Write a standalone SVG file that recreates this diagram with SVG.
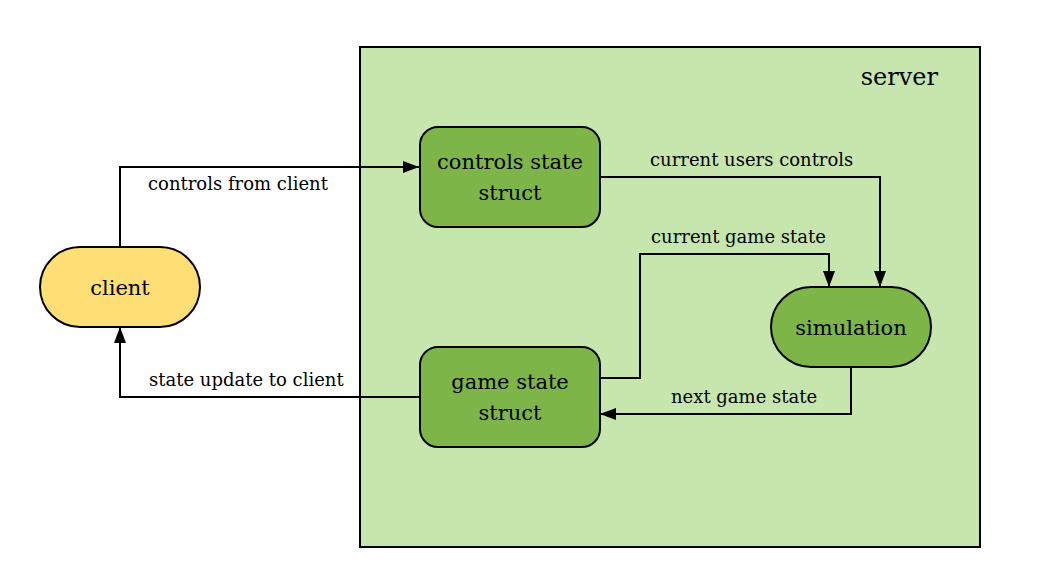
<svg xmlns="http://www.w3.org/2000/svg" width="1060" height="587" viewBox="0 0 1060 587">
<defs>
<style>
.node{stroke:#000;stroke-width:2}
.green{fill:#7db548}
.yellow{fill:#ffde75}
.lbl{font-family:"DejaVu Serif","Liberation Serif",serif;font-size:18px;fill:#000}
.ntxt{font-family:"DejaVu Serif","Liberation Serif",serif;font-size:21px;fill:#000;text-anchor:middle}
.edge{fill:none;stroke:#000;stroke-width:2}
</style>
<marker id="arrow" viewBox="0 0 16 12" refX="16" refY="6" markerWidth="16" markerHeight="12" markerUnits="userSpaceOnUse" orient="auto">
<path d="M0,0 L16,6 L0,12 z" fill="#000"/>
</marker>
</defs>
<rect width="1060" height="587" fill="#fff"/>
<g id="server">
<rect x="360" y="47" width="620" height="500" fill="#c6e6ae" stroke="#000" stroke-width="2"/>
<text x="938" y="85" class="ntxt" style="text-anchor:end;font-size:24px">server</text>
</g>
<g id="connectors">
<path class="edge" d="M120,247 V167 H419" marker-end="url(#arrow)"/>
<text class="lbl" x="148" y="190">controls from client</text>
<path class="edge" d="M600,177 H880 V287" marker-end="url(#arrow)"/>
<text class="lbl" x="650" y="166">current users controls</text>
<path class="edge" d="M600,378 H640 V254 H829 V287" marker-end="url(#arrow)"/>
<text class="lbl" x="651" y="243">current game state</text>
<path class="edge" d="M851,367 V414 H600" marker-end="url(#arrow)"/>
<text class="lbl" x="671" y="403">next game state</text>
<path class="edge" d="M419,397 H120 V327" marker-end="url(#arrow)"/>
<text class="lbl" x="149" y="386">state update to client</text>
</g>
<g id="client">
<rect class="node yellow" x="40" y="247" width="160" height="80" rx="40" ry="40"/>
<text class="ntxt" x="120" y="295">client</text>
</g>
<g id="controls-state-struct">
<rect class="node green" x="420" y="127" width="180" height="100" rx="18" ry="18"/>
<text class="ntxt" x="510" y="169">controls state</text>
<text class="ntxt" x="510" y="200">struct</text>
</g>
<g id="game-state-struct">
<rect class="node green" x="420" y="347" width="180" height="100" rx="18" ry="18"/>
<text class="ntxt" x="510" y="389">game state</text>
<text class="ntxt" x="510" y="420">struct</text>
</g>
<g id="simulation">
<rect class="node green" x="771" y="287" width="160" height="80" rx="40" ry="40"/>
<text class="ntxt" x="851" y="335">simulation</text>
</g>
</svg>
